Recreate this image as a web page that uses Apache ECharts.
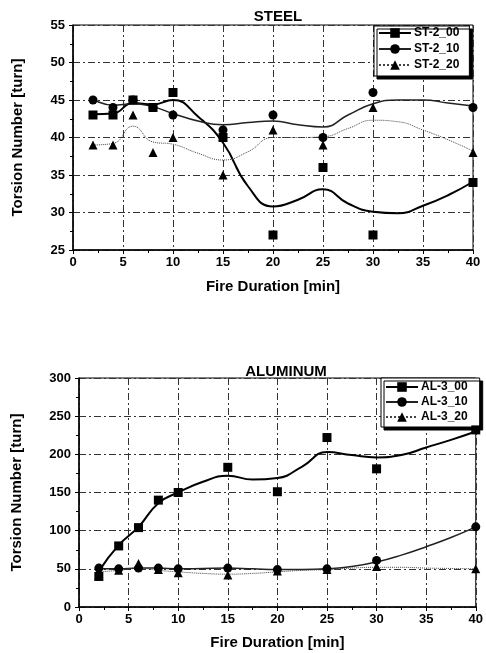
<!DOCTYPE html>
<html>
<head>
<meta charset="utf-8">
<script src="https://cdn.jsdelivr.net/npm/echarts@6/dist/echarts.min.js"></script>
<style>
  html, body { margin: 0; padding: 0; background: #fff; }
  #chart { width: 486px; height: 653px; }
</style>
</head>
<body>
<div id="chart"></div>
<script>
  // measured points
  const fireDuration = [2, 4, 6, 8, 10, 15, 20, 25, 30, 40];
  const st200 = [43, 43, 45, 44, 46, 40, 27, 36, 27, 34];
  const st210 = [45, 44, 45, 44, 43, 41, 43, 40, 46, 44];
  const st220 = [39, 39, 43, 38, 40, 35, 41, 39, 44, 38];
  const al300 = [40, 80, 104, 140, 150, 183, 151, 222, 181, 232];
  const al310 = [51, 50, 51, 51, 50, 51, 49, 50, 61, 105];
  const al320 = [42, 48, 57, 49, 45, 42, 47, 49, 53, 50];

  // fitted curves
  const fitDuration = [2, 4, 6, 8, 10, 12.5, 15, 17.5, 20, 22.5, 25, 27.5, 30, 32.5, 35, 37.5, 40];
  const st200Fit = [43.1, 43.2, 44.6, 44.4, 45, 42.8, 39.3, 33.5, 30.8, 31.7, 33.1, 31.2, 30.1, 29.9, 30.9, 32.3, 34.1];
  const st210Fit = [45.1, 44.3, 44.5, 44.1, 43.2, 42.2, 41.7, 42, 42.2, 41.7, 41.4, 43, 44.5, 45, 45, 44.6, 44.2];
  const st220Fit = [39, 39.2, 41.5, 39.4, 39.1, 37.9, 37, 38.1, 40, 40, 40.1, 41.2, 42.3, 42.1, 41, 39.7, 38.2];
  const al300Fit = [47, 81, 105, 136, 150, 164, 172, 167, 169, 184, 203, 199, 196, 199, 209, 219, 230];
  const al310Fit = [50, 50, 51, 51, 50, 50.5, 51, 50, 49, 49, 50, 53, 59, 68, 79, 91, 105];
  const al320Fit = [46, 48, 51, 48, 46, 44, 43, 44, 46, 48, 49, 51, 52, 52, 51, 50.5, 50];

  const font = "Liberation Sans";
  const pair = (xs, ys) => xs.map((x, i) => [x, ys[i]]);
  const gridLine = { show: true, lineStyle: { color: "#333", width: 1, type: [7, 3, 2, 3] } };

  const xAxisCommon = (gridIndex, gap) => ({
    gridIndex,
    type: "value",
    min: 0,
    max: 40,
    interval: 5,
    name: "Fire Duration [min]",
    nameLocation: "middle",
    nameGap: gap,
    nameTextStyle: { fontFamily: font, fontWeight: "bold", fontSize: 15, color: "#000" },
    axisLine: { lineStyle: { color: "#000", width: 1.5 } },
    axisTick: { show: true, length: 4, lineStyle: { color: "#000" } },
    minorTick: { show: true, splitNumber: 2, length: 3, lineStyle: { color: "#000" } },
    axisLabel: { fontFamily: font, fontWeight: "bold", fontSize: 13, color: "#000", margin: 6 },
    splitLine: gridLine,
  });

  const yAxisCommon = (gridIndex, min, max, interval, gap) => ({
    gridIndex,
    type: "value",
    min,
    max,
    interval,
    name: "Torsion Number [turn]",
    nameLocation: "middle",
    nameGap: gap,
    nameTextStyle: { fontFamily: font, fontWeight: "bold", fontSize: 15, color: "#000" },
    axisLine: { show: true, lineStyle: { color: "#000", width: 1.5 } },
    axisTick: { show: true, length: 4, lineStyle: { color: "#000" } },
    minorTick: { show: true, splitNumber: 2, length: 3, lineStyle: { color: "#000" } },
    axisLabel: { fontFamily: font, fontWeight: "bold", fontSize: 13, color: "#000", margin: 8 },
    splitLine: gridLine,
  });

  const fitSeries = (name, idx, ys, symbol, width, type, color) => ({
    name,
    type: "line",
    xAxisIndex: idx,
    yAxisIndex: idx,
    data: pair(fitDuration, ys),
    smooth: true,
    symbol,
    symbolSize: 8,
    showSymbol: false,
    itemStyle: { color: "#000" },
    lineStyle: { color, width, type },
    silent: true,
    animation: false,
  });

  const pointSeries = (idx, ys, symbol, size) => ({
    name: "pts",
    type: "scatter",
    xAxisIndex: idx,
    yAxisIndex: idx,
    data: pair(fireDuration, ys),
    symbol,
    symbolSize: size,
    itemStyle: { color: "#000", opacity: 1 },
    z: 5,
    animation: false,
  });

  const legendCommon = (names, left, top, gap, pad) => ({
    data: names,
    orient: "vertical",
    left,
    top,
    itemGap: gap,
    itemWidth: 32,
    itemHeight: 12,
    padding: pad,
    backgroundColor: "#fff",
    borderColor: "#000",
    borderWidth: 1,
    shadowColor: "#000",
    shadowBlur: 0,
    shadowOffsetX: 3,
    shadowOffsetY: 3,
    textStyle: { fontFamily: font, fontSize: 12, fontWeight: "bold", color: "#000", padding: [0, 0, 0, -2] },
  });

  const chart = echarts.init(document.getElementById("chart"), null, { renderer: "canvas" });
  chart.setOption({
    backgroundColor: "#fff",
    animation: false,
    title: [
      { text: "STEEL", left: 273, top: 4, textAlign: "center",
        textStyle: { fontFamily: font, fontWeight: "bold", fontSize: 15, color: "#000" } },
      { text: "ALUMINUM", left: 281, top: 359, textAlign: "center",
        textStyle: { fontFamily: font, fontWeight: "bold", fontSize: 15, color: "#000" } },
    ],
    legend: [
      legendCommon(["ST-2_00", "ST-2_10", "ST-2_20"], 374, 26, 4, [1, 10, 5, 4]),
      legendCommon(["AL-3_00", "AL-3_10", "AL-3_20"], 381, 378, 3, [3, 12, 4, 4]),
    ],
    grid: [
      { left: 73, top: 25, width: 400, height: 225, show: true, borderColor: "#000", borderWidth: 1 },
      { left: 79, top: 378, width: 400, height: 229, show: true, borderColor: "#000", borderWidth: 1 },
    ],
    xAxis: [xAxisCommon(0, 29), xAxisCommon(1, 28)],
    yAxis: [yAxisCommon(0, 25, 55, 5, 48), yAxisCommon(1, 0, 300, 50, 55)],
    series: [
      fitSeries("ST-2_00", 0, st200Fit, "rect", 2, "solid", "#000"),
      fitSeries("ST-2_10", 0, st210Fit, "circle", 1.5, "solid", "#222"),
      fitSeries("ST-2_20", 0, st220Fit, "triangle", 1, "dotted", "#444"),
      pointSeries(0, st200, "rect", 9),
      pointSeries(0, st210, "circle", 9),
      pointSeries(0, st220, "triangle", 9),
      fitSeries("AL-3_00", 1, al300Fit, "rect", 2, "solid", "#000"),
      fitSeries("AL-3_10", 1, al310Fit, "circle", 1.5, "solid", "#222"),
      fitSeries("AL-3_20", 1, al320Fit, "triangle", 1, "dotted", "#444"),
      pointSeries(1, al300, "rect", 9),
      pointSeries(1, al310, "circle", 9),
      pointSeries(1, al320, "triangle", 9),
    ],
  });
</script>
</body>
</html>
